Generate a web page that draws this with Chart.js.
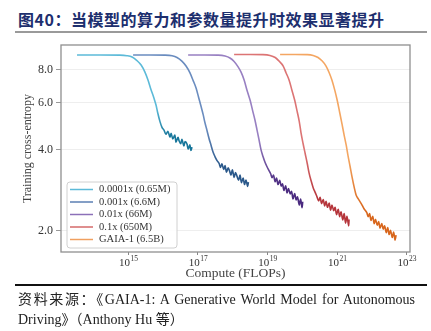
<!DOCTYPE html>
<html>
<head>
<meta charset="utf-8">
<script src="https://cdn.jsdelivr.net/npm/chart.js@4"></script>
<style>
  html, body { margin: 0; padding: 0; background: #fff; }
  #wrap { position: relative; width: 431px; height: 331px; overflow: hidden; }
  #plot { position: absolute; left: 0; top: 0; }
  .title { position: absolute; left: 18px; top: 7px; line-height: 20px; font: bold 16px "Noto Sans CJK SC"; color: #1d2f6e; letter-spacing: 0.5px; white-space: nowrap; }
  .rule { position: absolute; left: 15px; width: 412px; }
  .rule.top { top: 31px; height: 2px; background: #9a9a9a; }
  .rule.bottom { top: 284px; height: 1.5px; background: #111; }
  .source { position: absolute; left: 18px; width: 397px; line-height: 18px; font-size: 14px; font-family: "Liberation Serif", "Noto Sans CJK SC"; color: #222; }
  .l1 { top: 291px; text-align: justify; text-align-last: justify; }
  .l2 { top: 311px; }
</style>
</head>
<body>
<div id="wrap">
  <div class="title">图40：当模型的算力和参数量提升时效果显著提升</div>
  <div class="rule top"></div>
  <canvas id="plot" width="431" height="331"></canvas>
  <div class="rule bottom"></div>
  <div class="source l1">资料来源：《GAIA-1: A Generative World Model for Autonomous</div>
  <div class="source l2">Driving》（Anthony Hu 等）</div>
</div>
<script>
// model sizes shown in the legend
const seriesLabels = ["0.0001x (0.65M)", "0.001x (6.6M)", "0.01x (66M)", "0.1x (650M)", "GAIA-1 (6.5B)"];

// axis ticks
const xTickExponents = [15, 17, 19, 21, 23];
const yTickValues = [2, 4, 6, 8];

// compute given as log10(FLOPs), loss as training cross-entropy
const exp0001 = [13.53, 14.19, 14.76, 14.96, 15.11, 15.25, 15.37, 15.48, 15.57, 15.65, 15.74, 15.80, 15.85, 15.91, 15.97, 16.03,
  16.08, 16.14, 16.20, 16.23, 16.28, 16.34, 16.37, 16.43, 16.46, 16.51, 16.54, 16.60, 16.63, 16.69, 16.72, 16.77, 16.80, 16.83];
const loss0001 = [9.07, 9.07, 9.06, 9.02, 8.92, 8.65, 8.32, 7.83, 7.30, 6.76, 6.25, 5.88, 5.49, 5.12, 4.86, 4.74,
  4.58, 4.70, 4.47, 4.62, 4.40, 4.55, 4.28, 4.46, 4.33, 4.22, 4.39, 4.14, 4.30, 4.20, 4.03, 4.18, 3.98, 4.10];

const exp001 = [15.14, 15.62, 16.06, 16.26, 16.40, 16.54, 16.66, 16.77, 16.86, 16.95, 17.02, 17.09, 17.15, 17.20, 17.26, 17.32,
  17.38, 17.43, 17.49, 17.55, 17.61, 17.65, 17.69, 17.74, 17.78, 17.82, 17.87, 17.91, 17.95, 17.99, 18.04, 18.08, 18.12,
  18.17, 18.21, 18.25, 18.30, 18.34, 18.38, 18.43, 18.45];
const loss001 = [9.07, 9.07, 9.06, 9.01, 8.88, 8.61, 8.25, 7.79, 7.30, 6.81, 6.30, 5.83, 5.44, 5.08, 4.74, 4.42,
  4.16, 3.95, 3.78, 3.65, 3.56, 3.44, 3.55, 3.38, 3.50, 3.30, 3.43, 3.34, 3.22, 3.37, 3.16, 3.29, 3.20,
  3.08, 3.22, 3.02, 3.14, 2.97, 3.09, 2.92, 3.03];

const exp01 = [16.72, 17.20, 17.58, 17.78, 17.92, 18.04, 18.15, 18.24, 18.33, 18.41, 18.50, 18.57, 18.64, 18.70, 18.76, 18.81,
  18.87, 18.93, 19.01, 19.09, 19.13, 19.17, 19.22, 19.26, 19.30, 19.35, 19.39, 19.43, 19.47, 19.52, 19.56, 19.60,
  19.65, 19.69, 19.73, 19.78, 19.82, 19.86, 19.91, 19.95, 19.99, 20.01];
const loss01 = [9.07, 9.07, 9.06, 8.99, 8.84, 8.58, 8.21, 7.83, 7.30, 6.70, 6.14, 5.63, 5.17, 4.74, 4.34, 4.02,
  3.78, 3.59, 3.41, 3.26, 3.15, 3.22, 3.04, 3.14, 2.97, 3.08, 2.93, 2.99, 2.82, 2.94, 2.76, 2.87,
  2.74, 2.80, 2.62, 2.75, 2.60, 2.67, 2.49, 2.62, 2.43, 2.56];

const exp1 = [18.04, 18.50, 18.87, 19.07, 19.22, 19.33, 19.45, 19.53, 19.62, 19.70, 19.78, 19.85, 19.91, 19.96, 20.02, 20.08,
  20.14, 20.19, 20.25, 20.31, 20.37, 20.42, 20.47, 20.51, 20.55, 20.60, 20.64, 20.68, 20.72, 20.77, 20.81, 20.85,
  20.90, 20.94, 20.98, 21.03, 21.07, 21.11, 21.16, 21.20, 21.24, 21.28, 21.33, 21.34];
const loss1 = [9.11, 9.11, 9.10, 9.04, 8.88, 8.61, 8.25, 7.79, 7.30, 6.70, 6.14, 5.58, 5.12, 4.65, 4.23, 3.88,
  3.56, 3.29, 3.07, 2.89, 2.77, 2.67, 2.58, 2.66, 2.52, 2.61, 2.47, 2.57, 2.44, 2.53, 2.38, 2.49,
  2.37, 2.44, 2.29, 2.40, 2.25, 2.35, 2.19, 2.31, 2.13, 2.26, 2.08, 2.20];

const expGaia = [19.36, 19.79, 20.14, 20.31, 20.45, 20.57, 20.68, 20.77, 20.85, 20.93, 21.00, 21.07, 21.14, 21.20, 21.26, 21.31,
  21.37, 21.43, 21.49, 21.54, 21.60, 21.69, 21.77, 21.85, 21.89, 21.93, 21.97, 22.02, 22.06, 22.10, 22.15, 22.19,
  22.23, 22.28, 22.32, 22.36, 22.41, 22.45, 22.49, 22.53, 22.58, 22.62, 22.66, 22.69];
const lossGaia = [9.11, 9.11, 9.10, 9.04, 8.88, 8.61, 8.25, 7.79, 7.30, 6.70, 6.14, 5.54, 4.99, 4.54, 4.16, 3.81,
  3.47, 3.15, 2.89, 2.72, 2.63, 2.52, 2.41, 2.33, 2.25, 2.31, 2.18, 2.26, 2.12, 2.20, 2.09, 2.16,
  2.04, 2.12, 2.02, 2.08, 1.96, 2.05, 1.93, 2.00, 1.88, 1.97, 1.84, 1.92];

const seriesExps = [exp0001, exp001, exp01, exp1, expGaia];
const seriesLoss = [loss0001, loss001, loss01, loss1, lossGaia];

// light colour for the early part of each run, dark for the noisy tail
const lightColors = ["#5cbad8", "#6a8cbf", "#9880c2", "#dc7474", "#f4a662"];
const darkColors = ["#17769a", "#2a588a", "#4b2b80", "#b5343a", "#d8661c"];
const legendColors = ["#5cbad8", "#5b7fb3", "#8c70b8", "#d46a6a", "#f0a060"];

const serif = "'Liberation Serif', 'Times New Roman', serif";

function fadeColor(i) {
  return (ctx) => {
    const chart = ctx.chart;
    const area = chart.chartArea;
    if (!area) return lightColors[i];
    const ys = chart.scales.y;
    const top = ys.getPixelForValue(Math.max(...seriesLoss[i]));
    const bottom = ys.getPixelForValue(Math.min(...seriesLoss[i]));
    const g = chart.ctx.createLinearGradient(0, top, 0, bottom);
    g.addColorStop(0, lightColors[i]);
    g.addColorStop(0.55, lightColors[i]);
    g.addColorStop(0.85, darkColors[i]);
    g.addColorStop(1, darkColors[i]);
    return g;
  };
}

const datasets = seriesLabels.map((label, i) => ({
  label,
  data: seriesExps[i].map((e, k) => ({ x: Math.pow(10, e), y: seriesLoss[i][k] })),
  borderColor: fadeColor(i),
  borderWidth: 1.6,
  pointRadius: 0,
  cubicInterpolationMode: "monotone",
  fill: false
}));

// frame, power-of-ten x labels and the boxed legend
const decorPlugin = {
  id: "decor",
  afterDraw(chart) {
    const { ctx, chartArea: a, scales: { x } } = chart;
    ctx.save();
    ctx.strokeStyle = "#8f8f8f";
    ctx.lineWidth = 1.3;
    ctx.strokeRect(a.left, a.top, a.right - a.left, a.bottom - a.top);

    ctx.fillStyle = "#333";
    ctx.textBaseline = "alphabetic";
    ctx.textAlign = "left";
    x.ticks.forEach(t => {
      const px = x.getPixelForValue(t.value);
      const exp = String(Math.round(Math.log10(t.value)));
      ctx.font = "11px " + serif;
      const wb = ctx.measureText("10").width;
      ctx.font = "7.5px " + serif;
      const we = ctx.measureText(exp).width;
      const x0 = px - (wb + we) / 2;
      ctx.font = "11px " + serif;
      ctx.fillText("10", x0, a.bottom + 14);
      ctx.font = "7.5px " + serif;
      ctx.fillText(exp, x0 + wb + 0.5, a.bottom + 9);
    });

    // legend box in the lower left of the plot
    const bx = a.left + 6, by = a.bottom - 70, bw = 110, bh = 66;
    ctx.beginPath();
    ctx.roundRect(bx, by, bw, bh, 3);
    ctx.fillStyle = "rgba(255,255,255,0.85)";
    ctx.fill();
    ctx.strokeStyle = "#d0d0d0";
    ctx.lineWidth = 1;
    ctx.stroke();
    ctx.font = "10.5px " + serif;
    ctx.textBaseline = "middle";
    chart.data.datasets.forEach((ds, i) => {
      const ry = by + 7.5 + i * 12.5;
      ctx.strokeStyle = legendColors[i];
      ctx.lineWidth = 1.5;
      ctx.beginPath();
      ctx.moveTo(bx + 3, ry);
      ctx.lineTo(bx + 26, ry);
      ctx.stroke();
      ctx.fillStyle = "#333";
      ctx.fillText(ds.label, bx + 32, ry);
    });
    ctx.restore();
  }
};

new Chart(document.getElementById("plot"), {
  type: "line",
  data: { datasets },
  options: {
    responsive: false,
    animation: false,
    layout: { padding: { top: 45, right: 21, bottom: 49, left: 0 } },
    plugins: { legend: { display: false }, tooltip: { enabled: false } },
    scales: {
      x: {
        type: "logarithmic",
        min: Math.pow(10, 13.07),
        max: Math.pow(10, 23.09),
        afterFit: s => { s.height = 30; },
        afterBuildTicks: s => { s.ticks = xTickExponents.map(e => ({ value: Math.pow(10, e) })); },
        ticks: { display: false },
        grid: { drawOnChartArea: false, tickLength: 3, tickColor: "#888" },
        border: { display: false },
        title: { display: true, text: "Compute (FLOPs)", color: "#444", font: { family: serif, size: 13.5 }, padding: { top: 0, bottom: 0 } }
      },
      y: {
        type: "logarithmic",
        min: 1.66,
        max: 9.89,
        afterFit: s => { s.width = 61; },
        afterBuildTicks: s => { s.ticks = yTickValues.map(v => ({ value: v })); },
        ticks: { color: "#333", padding: 3, font: { family: serif, size: 12 }, callback: v => Number(v).toFixed(1) },
        grid: { color: "#eeeeee", tickLength: 5, tickColor: "#999" },
        border: { display: false },
        title: { display: true, text: "Training cross-entropy", color: "#444", font: { family: serif, size: 12 }, padding: { top: 21, bottom: 0 } }
      }
    }
  },
  plugins: [decorPlugin]
});
</script>
</body>
</html>
